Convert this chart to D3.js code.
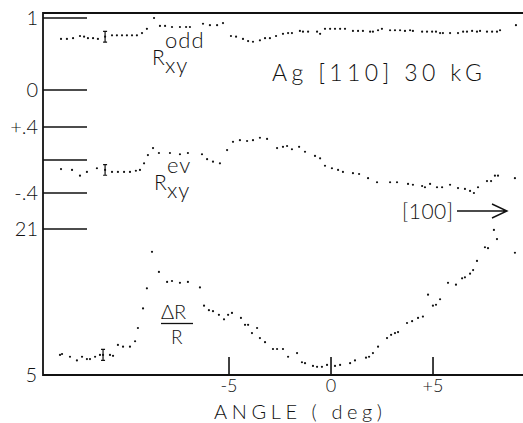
<!DOCTYPE html>
<html>
<head>
<meta charset="utf-8">
<script src="https://cdn.jsdelivr.net/npm/d3@7"></script>
<style>
  body { margin: 0; background: #fff; }
  text { font-family: Lato, "DejaVu Sans", sans-serif; font-weight: 300; fill: #111; }
</style>
</head>
<body>
<svg id="chart" width="523" height="423"></svg>
<script>
// angle (deg) of each sweep point
var oddAngle = [-13.21,-12.92,-12.62,-12.28,-12.08,-11.89,-11.64,-11.40,-11.05,-10.71,-10.47,-10.22,-9.98,-9.73,-9.49,-9.24,-9.00,-8.65,-8.36,-8.11,-7.77,-7.38,-7.08,-6.89,-6.25,-5.91,-5.56,-5.27,-4.88,-4.63,-4.29,-4.04,-3.80,-3.46,-3.21,-2.97,-2.67,-2.33,-2.08,-1.89,-1.50,-1.35,-1.10,-0.66,-0.51,-0.27,-0.02,0.22,0.47,0.71,1.10,1.35,1.59,1.94,2.08,2.33,2.52,2.92,3.16,3.41,3.65,3.90,4.04,4.49,4.73,4.98,5.17,5.37,5.51,5.86,6.25,6.50,6.69,6.94,7.18,7.33,7.67,7.92,8.16,8.31,9.09];
var oddValue = [0.71,0.71,0.72,0.75,0.74,0.72,0.72,0.71,0.74,0.76,0.76,0.76,0.76,0.76,0.76,0.79,0.85,1.00,0.89,0.89,0.875,0.875,0.875,0.875,0.92,0.90,0.90,0.93,0.75,0.74,0.71,0.68,0.67,0.69,0.72,0.72,0.75,0.78,0.79,0.79,0.82,0.81,0.81,0.81,0.78,0.85,0.85,0.85,0.85,0.85,0.82,0.82,0.82,0.81,0.81,0.83,0.85,0.83,0.83,0.83,0.82,0.83,0.82,0.81,0.81,0.81,0.81,0.79,0.79,0.79,0.79,0.81,0.81,0.82,0.81,0.82,0.81,0.81,0.81,0.83,0.90];

var evAngle = [-13.21,-12.67,-12.28,-11.94,-11.45,-11.05,-10.71,-10.42,-10.12,-9.83,-9.54,-9.34,-9.14,-8.95,-8.70,-8.41,-7.87,-7.38,-6.99,-6.30,-6.05,-5.76,-5.42,-5.07,-4.78,-4.44,-4.09,-3.80,-3.46,-3.11,-2.62,-2.33,-2.13,-1.89,-1.54,-1.25,-0.76,-0.51,-0.27,0.07,0.37,0.61,1.10,1.40,1.84,2.28,2.92,3.26,3.80,4.04,4.49,4.63,4.88,5.22,5.47,5.86,6.25,6.59,6.84,7.03,7.23,7.67,7.87,8.06,8.21,9.04];
var evValue = [-0.11,-0.12,-0.19,-0.145,-0.10,-0.12,-0.145,-0.145,-0.145,-0.145,-0.13,-0.12,-0.04,0.06,0.145,0.085,0.085,0.07,0.085,0.07,0.01,-0.02,-0.04,0.12,0.22,0.24,0.23,0.24,0.27,0.255,0.145,0.16,0.17,0.13,0.16,0.10,0.05,0.02,-0.07,-0.10,-0.12,-0.145,-0.16,-0.17,-0.22,-0.27,-0.27,-0.27,-0.29,-0.30,-0.315,-0.33,-0.29,-0.33,-0.33,-0.30,-0.34,-0.35,-0.375,-0.40,-0.33,-0.255,-0.255,-0.19,-0.19,-0.22];

var drAngle = [-13.26,-13.16,-12.77,-12.43,-12.18,-11.94,-11.79,-11.54,-11.30,-11.15,-10.81,-10.66,-10.42,-10.17,-9.83,-9.58,-9.44,-9.19,-9.00,-8.75,-8.41,-8.01,-7.77,-7.38,-6.99,-6.40,-6.20,-5.96,-5.76,-5.47,-5.22,-5.02,-4.83,-4.39,-4.19,-4.04,-3.85,-3.60,-3.46,-3.21,-2.82,-2.62,-2.33,-2.08,-1.64,-1.40,-1.25,-0.86,-0.66,-0.42,-0.17,0.22,0.47,0.96,1.20,1.74,1.89,2.08,2.33,2.77,2.97,3.16,3.31,3.75,4.00,4.29,4.53,4.78,5.02,5.17,5.37,5.76,6.15,6.45,6.59,6.84,6.99,7.18,7.57,7.72,8.01,8.16,9.04];
var drValue = [7.2,7.3,7.0,6.6,7.0,6.75,6.75,7.0,7.2,7.2,7.2,7.1,8.3,8.1,8.1,8.7,10.15,12.3,14.5,18.5,16.3,15.2,15.3,15.1,15.2,14.6,12.6,12.1,12.0,11.6,11.1,11.6,11.8,11.25,10.5,10.5,9.6,10.15,9.05,8.6,7.85,7.85,7.85,7.0,7.4,6.4,6.3,6.0,5.9,5.9,6.1,6.0,6.1,6.3,6.6,6.9,7.0,7.4,8.1,9.05,9.4,9.6,9.7,10.7,10.9,11.25,11.4,13.8,12.6,12.7,13.3,15.1,14.9,15.6,15.7,16.1,16.5,17.5,19.0,18.9,20.9,19.9,18.4];

// one error bar per sweep: [angle, value, half height]
var oddErr = [-11.05, 0.74, 0.075];
var evErr = [-11.05, -0.12, 0.065];
var drErr = [-11.15, 7.2, 0.6];

var angleTicks = [-5, 0, 5];
var angleTickLabels = ["-5", "0", "+5"];
var oddTicks = [1, 0], oddTickLabels = ["1", "0"];
var evTicks = [0.4, 0, -0.4], evTickLabels = ["+.4", "", "-.4"];
var drTicks = [21], drTickLabels = ["21"];

var svg = d3.select("#chart");
var padL = 43, padT = 13, padB = 375, padR = 523;

var x = d3.scaleLinear().domain([-14, 9.45]).range([44.9, 523.3]);
var yOdd = d3.scaleLinear().domain([0, 1]).range([90, 18]);
var yEv = d3.scaleLinear().domain([-0.4, 0.4]).range([193, 127]);
var yDr = d3.scaleLinear().domain([5, 21]).range([375, 229]);

// frame: top, left and bottom lines
svg.append("path")
    .attr("d", "M" + padR + "," + padT + "H" + padL + "V" + padB + "H" + padR)
    .attr("fill", "none").attr("stroke", "#111").attr("stroke-width", 1.8);

// left ticks of the three stacked scales
function leftTicks(scale, ticks, labels) {
  ticks.forEach(function(t, i) {
    svg.append("line")
        .attr("x1", padL).attr("x2", padL + 44)
        .attr("y1", scale(t)).attr("y2", scale(t))
        .attr("stroke", "#111").attr("stroke-width", 1.7);
    svg.append("text")
        .attr("x", padL - 5).attr("y", scale(t) + 7)
        .attr("text-anchor", "end").attr("font-size", 20)
        .text(labels[i]);
  });
}
leftTicks(yOdd, oddTicks, oddTickLabels);
leftTicks(yEv, evTicks, evTickLabels);
leftTicks(yDr, drTicks, drTickLabels);
svg.append("text").attr("x", padL - 6).attr("y", yDr(5) + 7)
    .attr("text-anchor", "end").attr("font-size", 20).text("5");

// angle axis, ticks pointing up
var xAxis = d3.axisBottom(x).tickValues(angleTicks)
    .tickFormat(function(d, i) { return angleTickLabels[i]; })
    .tickSizeInner(-18).tickSizeOuter(0).tickPadding(4);
var gx = svg.append("g").attr("transform", "translate(0," + padB + ")").call(xAxis);
gx.select(".domain").remove();
gx.selectAll("line").attr("stroke", "#111").attr("stroke-width", 1.6);
gx.selectAll("text").attr("font-size", 18).attr("font-family", "Lato, sans-serif")
    .attr("font-weight", 300).attr("fill", "#111");

svg.append("text").attr("x", 214).attr("y", 419).attr("font-size", 20)
    .attr("textLength", 168).attr("lengthAdjust", "spacing").text("ANGLE  ( deg)");

// dotted sweeps
function dots(angles, values, scale) {
  svg.append("g").selectAll("circle")
      .data(angles)
      .enter().append("circle")
      .attr("cx", function(d) { return x(d); })
      .attr("cy", function(d, i) { return scale(values[i]); })
      .attr("r", 1.1)
      .attr("fill", "#111");
}
dots(oddAngle, oddValue, yOdd);
dots(evAngle, evValue, yEv);
dots(drAngle, drValue, yDr);

function errBar(e, scale) {
  var cx = x(e[0]), y1 = scale(e[1] + e[2]), y2 = scale(e[1] - e[2]);
  svg.append("path")
      .attr("d", "M" + cx + "," + y1 + "V" + y2 + "M" + (cx - 2) + "," + y1 + "H" + (cx + 2) +
                 "M" + (cx - 2) + "," + y2 + "H" + (cx + 2))
      .attr("stroke", "#111").attr("stroke-width", 1.2).attr("fill", "none");
}
errBar(oddErr, yOdd);
errBar(evErr, yEv);
errBar(drErr, yDr);

// curve labels
function rLabel(xp, yp, sup) {
  svg.append("text").attr("x", xp).attr("y", yp).attr("font-size", 21).text("R");
  svg.append("text").attr("x", xp + 13).attr("y", yp - 17).attr("font-size", 22)
      .attr("letter-spacing", 1).text(sup);
  svg.append("text").attr("x", xp + 13).attr("y", yp + 8).attr("font-size", 22)
      .attr("letter-spacing", 1).text("xy");
}
rLabel(152, 65, "odd");
rLabel(154, 190, "ev");

svg.append("text").attr("x", 161).attr("y", 319).attr("font-size", 20).text("\u0394R");
svg.append("line").attr("x1", 161).attr("x2", 193).attr("y1", 323.5).attr("y2", 323.5)
    .attr("stroke", "#111").attr("stroke-width", 1.3);
svg.append("text").attr("x", 171).attr("y", 344).attr("font-size", 19).text("R");

svg.append("text").attr("x", 272).attr("y", 81).attr("font-size", 23)
    .attr("textLength", 210).attr("lengthAdjust", "spacing").text("Ag  [110]   30 kG");

svg.append("text").attr("x", 402).attr("y", 219).attr("font-size", 21)
    .attr("textLength", 51).attr("lengthAdjust", "spacing").text("[100]");
svg.append("path")
    .attr("d", "M457,211H506M492,204L507,211L492,218")
    .attr("fill", "none").attr("stroke", "#111").attr("stroke-width", 1.4);
</script>
</body>
</html>
